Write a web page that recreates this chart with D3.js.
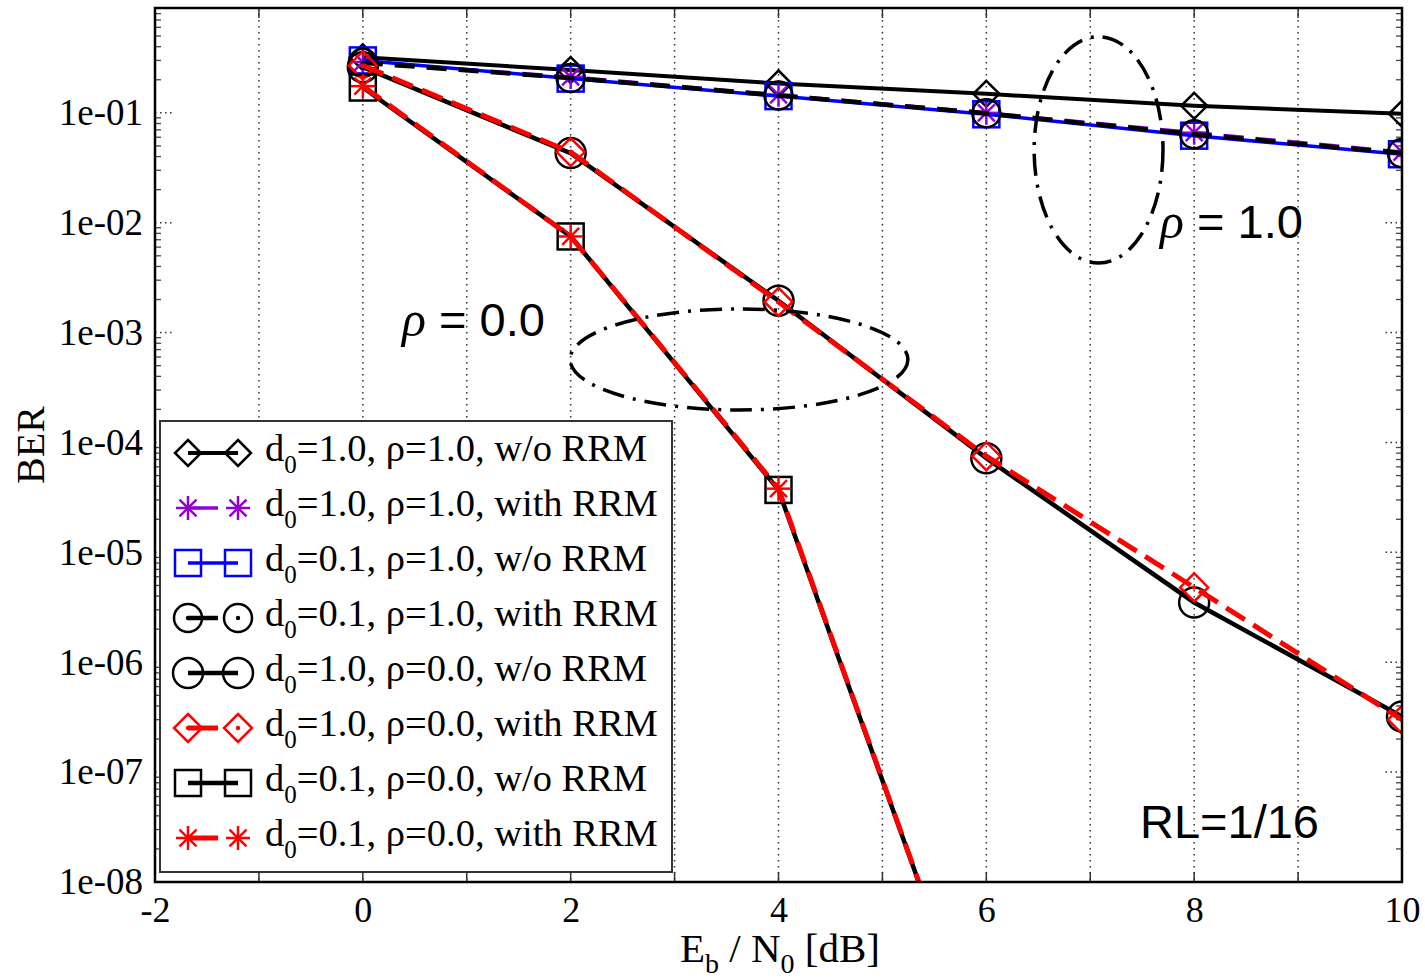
<!DOCTYPE html>
<html>
<head>
<meta charset="utf-8">
<script src="https://cdn.jsdelivr.net/npm/d3@7"></script>
<style>
  body { margin: 0; background: #fff; }
  svg { display: block; }
</style>
</head>
<body>
<div id="chart"></div>
<script>
// Eb/N0 sample points [dB]
const ebno = [0, 2, 4, 6, 8, 10];

// BER values
const berD10Rho10Wo   = [0.32, 0.245, 0.185, 0.149, 0.116, 0.098];
const berD10Rho10With = [0.29, 0.212, 0.146, 0.100, 0.066, 0.044];
const berD01Rho10Wo   = [0.30, 0.205, 0.142, 0.097, 0.062, 0.042];
const berD01Rho10With = [0.285, 0.208, 0.144, 0.099, 0.064, 0.043];
const berD10Rho00Wo   = [0.26, 0.043, 0.00195, 7.2e-5, 3.5e-6, 3.2e-7];
const berD10Rho00With = [0.27, 0.044, 0.0019, 7.5e-5, 4.8e-6, 3.0e-7];
const berD01Rho00Wo   = [0.17, 0.0075, 3.7e-5, 1.9e-10];
const berD01Rho00With = [0.175, 0.0075, 3.8e-5, 1.9e-10];

const legendD0  = ["1.0", "1.0", "0.1", "0.1", "1.0", "1.0", "0.1", "0.1"];
const legendRho = ["1.0", "1.0", "1.0", "1.0", "0.0", "0.0", "0.0", "0.0"];
const legendRrm = ["w/o RRM", "with RRM", "w/o RRM", "with RRM", "w/o RRM", "with RRM", "w/o RRM", "with RRM"];

const yTicks = [1e-1, 1e-2, 1e-3, 1e-4, 1e-5, 1e-6, 1e-7, 1e-8];
const xTickLabels = [-2, 0, 2, 4, 6, 8, 10];

// series style table (built from the arrays above)
const series = [
  { values: berD10Rho10Wo,   color: "#000", width: 4,   dash: null,    marker: "diamond",   size: 13 },
  { values: berD10Rho10With, color: "#9400d3", width: 3.5, dash: "20,12", marker: "asterisk",  size: 12 },
  { values: berD01Rho10Wo,   color: "#0000ff", width: 3.5, dash: null,  marker: "square",    size: 13 },
  { values: berD01Rho10With, color: "#000", width: 4.5, dash: "20,12",  marker: "circleDot", size: 14 },
  { values: berD10Rho00Wo,   color: "#000", width: 4.5, dash: null,     marker: "circle",    size: 15 },
  { values: berD10Rho00With, color: "#ff0000", width: 5, dash: "22,10", marker: "diamondDot", size: 14 },
  { values: berD01Rho00Wo,   color: "#000", width: 4.5, dash: null,     marker: "square",    size: 13 },
  { values: berD01Rho00With, color: "#ff0000", width: 5, dash: "22,10", marker: "asterisk", size: 12 }
];

const W = 1425, H = 979;
const plot = { left: 155, right: 1402, top: 8, bottom: 882 };

const svg = d3.select("#chart").append("svg")
  .attr("width", W).attr("height", H);

const x = d3.scaleLinear().domain([-2, 10]).range([plot.left, plot.right]);
const y = d3.scaleLog().domain([1e-8, 0.9]).range([plot.bottom, plot.top]);

svg.append("defs").append("clipPath").attr("id", "clip")
  .append("rect")
  .attr("x", plot.left).attr("y", plot.top)
  .attr("width", plot.right - plot.left).attr("height", plot.bottom - plot.top);

// vertical dotted grid
svg.append("g").selectAll("line")
  .data(d3.range(-1, 10))
  .enter().append("line")
  .attr("x1", d => x(d)).attr("x2", d => x(d))
  .attr("y1", plot.top).attr("y2", plot.bottom)
  .attr("stroke", "#333").attr("stroke-width", 1.5)
  .attr("stroke-dasharray", "1.5,4.5");

// y ticks (major dotted, minor short) on both sides
const minor = [];
for (let e = -8; e < 0; e++) for (let k = 2; k <= 9; k++) {
  const v = k * Math.pow(10, e);
  if (v <= 0.9) minor.push(v);
}
[plot.left, plot.right].forEach((xx, side) => {
  const dir = side === 0 ? 1 : -1;
  svg.append("g").selectAll("line.maj")
    .data(yTicks).enter().append("line")
    .attr("x1", xx).attr("x2", xx + dir * 20)
    .attr("y1", d => y(d)).attr("y2", d => y(d))
    .attr("stroke", "#333").attr("stroke-width", 1.5)
    .attr("stroke-dasharray", "1.5,3.5");
  svg.append("g").selectAll("line.min")
    .data(minor).enter().append("line")
    .attr("x1", xx).attr("x2", xx + dir * 6)
    .attr("y1", d => y(d)).attr("y2", d => y(d))
    .attr("stroke", "#444").attr("stroke-width", 1.3);
});

// x ticks top and bottom
[plot.bottom, plot.top].forEach((yy, side) => {
  const dir = side === 0 ? -1 : 1;
  svg.append("g").selectAll("line")
    .data(d3.range(-1, 10)).enter().append("line")
    .attr("x1", d => x(d)).attr("x2", d => x(d))
    .attr("y1", yy).attr("y2", yy + dir * 10)
    .attr("stroke", "#333").attr("stroke-width", 1.5);
});

// axes labels
const yAxis = svg.append("g")
  .attr("transform", `translate(${plot.left},0)`)
  .call(d3.axisLeft(y).tickValues(yTicks).tickSize(0).tickPadding(12)
    .tickFormat(d => "1e-0" + Math.round(-Math.log10(d))));
yAxis.select(".domain").remove();
yAxis.selectAll("text")
  .attr("font-family", "Liberation Serif, Times New Roman, serif")
  .attr("font-size", 37).attr("fill", "#000");

const xAxis = svg.append("g")
  .attr("transform", `translate(0,${plot.bottom})`)
  .call(d3.axisBottom(x).tickValues(xTickLabels).tickSize(0).tickPadding(14)
    .tickFormat(d => String(d)));
xAxis.select(".domain").remove();
xAxis.selectAll("text")
  .attr("font-family", "Liberation Serif, Times New Roman, serif")
  .attr("font-size", 36).attr("fill", "#000");

// axis titles
const xTitle = svg.append("text")
  .attr("x", 780).attr("y", 962)
  .attr("text-anchor", "middle")
  .attr("font-family", "Liberation Serif, Times New Roman, serif")
  .attr("font-size", 41);
xTitle.append("tspan").text("E");
xTitle.append("tspan").attr("dy", 11).attr("font-size", 28).text("b");
xTitle.append("tspan").attr("dy", -11).text(" / N");
xTitle.append("tspan").attr("dy", 11).attr("font-size", 28).text("0");
xTitle.append("tspan").attr("dy", -11).text(" [dB]");

svg.append("text")
  .attr("transform", "translate(44,445) rotate(-90)")
  .attr("text-anchor", "middle")
  .attr("font-family", "Liberation Serif, Times New Roman, serif")
  .attr("font-size", 40)
  .text("BER");

// marker drawing
function drawMarker(g, type, cx, cy, r, color) {
  const m = g.append("g").attr("transform", `translate(${cx},${cy})`)
    .attr("fill", "none").attr("stroke", color).attr("stroke-width", 2.5);
  if (type === "diamond" || type === "diamondDot") {
    m.append("path").attr("d", `M0,${-r}L${r},0L0,${r}L${-r},0Z`);
  } else if (type === "square") {
    m.append("rect").attr("x", -r).attr("y", -r).attr("width", 2 * r).attr("height", 2 * r);
  } else if (type === "circle" || type === "circleDot") {
    m.append("circle").attr("r", r);
  } else if (type === "asterisk") {
    [0, 45, 90, 135].forEach(a => {
      const c = Math.cos(a * Math.PI / 180) * r, s = Math.sin(a * Math.PI / 180) * r;
      m.append("line").attr("x1", -c).attr("y1", -s).attr("x2", c).attr("y2", s);
    });
  }
  if (type === "diamondDot" || type === "circleDot") {
    m.append("circle").attr("r", 2.2).attr("fill", color).attr("stroke", "none");
  }
}

// series lines + markers
const dataLayer = svg.append("g").attr("clip-path", "url(#clip)");
const line = d3.line().x((d, i) => x(ebno[i])).y(d => y(d));
series.forEach(s => {
  const g = dataLayer.append("g");
  g.append("path")
    .attr("d", line(s.values))
    .attr("fill", "none")
    .attr("stroke", s.color)
    .attr("stroke-width", s.width)
    .attr("stroke-dasharray", s.dash);
  s.values.forEach((v, i) => drawMarker(g, s.marker, x(ebno[i]), y(v), s.size, s.color));
});

// dash-dot ellipses around the two groups (centre x, centre BER, x radius, decades radius)
const ellipseCx = [7.08, 3.62];
const ellipseCy = [0.046, 5.7e-4];
const ellipseRx = [0.62, 1.625];
const ellipseRd = [1.03, 0.46];
ellipseCx.forEach((cx, i) => {
  svg.append("ellipse")
    .attr("cx", x(cx)).attr("cy", y(ellipseCy[i]))
    .attr("rx", x(cx + ellipseRx[i]) - x(cx))
    .attr("ry", y(ellipseCy[i]) - y(ellipseCy[i] * Math.pow(10, ellipseRd[i])))
    .attr("fill", "none").attr("stroke", "#000").attr("stroke-width", 3.5)
    .attr("stroke-dasharray", "22,9,3,9");
});

// text annotations
function rhoLabel(px, py, val) {
  const t = svg.append("text").attr("x", px).attr("y", py)
    .attr("font-family", "Liberation Sans, Arial, sans-serif").attr("font-size", 47);
  t.append("tspan").attr("font-family", "Liberation Serif, Times New Roman, serif")
    .attr("font-style", "italic").attr("font-size", 50).text("\u03c1");
  t.append("tspan").text(" = " + val);
}
rhoLabel(1160, 238, "1.0");
rhoLabel(402, 336, "0.0");
svg.append("text").attr("x", 1140).attr("y", 838)
  .attr("font-family", "Liberation Sans, Arial, sans-serif").attr("font-size", 47)
  .text("RL=1/16");

// frame
svg.append("rect")
  .attr("x", plot.left).attr("y", plot.top)
  .attr("width", plot.right - plot.left).attr("height", plot.bottom - plot.top)
  .attr("fill", "none").attr("stroke", "#000").attr("stroke-width", 2.5);

// legend
const legend = svg.append("g");
legend.append("rect")
  .attr("x", 160).attr("y", 421).attr("width", 512).attr("height", 451)
  .attr("fill", "#fff").attr("stroke", "#333").attr("stroke-width", 2);
series.forEach((s, i) => {
  const cy = 453 + i * 55;
  legend.append("line")
    .attr("x1", 188).attr("x2", 238).attr("y1", cy).attr("y2", cy)
    .attr("stroke", s.color).attr("stroke-width", s.width)
    .attr("stroke-dasharray", s.dash ? "30,20" : null);
  drawMarker(legend, s.marker, 188, cy, s.size, s.color);
  drawMarker(legend, s.marker, 238, cy, s.size, s.color);
  const t = legend.append("text").attr("x", 265).attr("y", cy + 8)
    .attr("font-family", "Liberation Serif, Times New Roman, serif")
    .attr("font-size", 38.5);
  t.append("tspan").text("d");
  t.append("tspan").attr("dy", 12).attr("font-size", 25).text("0");
  t.append("tspan").attr("dy", -12)
    .text(`=${legendD0[i]}, \u03c1=${legendRho[i]}, ${legendRrm[i]}`);
});
</script>
</body>
</html>
